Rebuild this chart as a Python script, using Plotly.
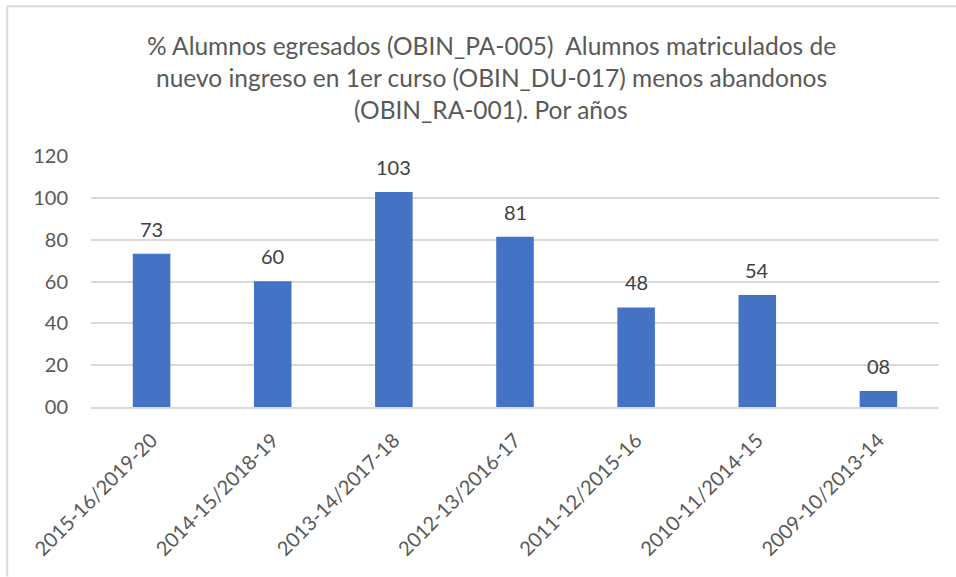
import plotly.graph_objects as go

categories = ["2015-16/2019-20", "2014-15/2018-19", "2013-14/2017-18", "2012-13/2016-17",
              "2011-12/2015-16", "2010-11/2014-15", "2009-10/2013-14"]
values = [73.3, 60.1, 102.8, 81.4, 47.6, 53.6, 7.6]
title_lines = ["% Alumnos egresados (OBIN_PA-005)  Alumnos matriculados de",
               "nuevo ingreso en 1er curso (OBIN_DU-017) menos abandonos",
               "(OBIN_RA-001). Por años"]
y_ticks = [0, 20, 40, 60, 80, 100, 120]

W, H = 956, 577
L, R, T, B = 90.7, 17.3, 156, 169.7
pw, ph = W - L - R, H - T - B

def px_x(x):
    return (x - L) / pw

def px_y(y):
    return (H - B - y) / ph

FONT = "Lato"
fig = go.Figure(go.Bar(x=categories, y=values, marker_color="#4472C4",
                       marker_line_width=0))

for c, v in zip(categories, values):
    fig.add_annotation(x=c, y=v, xref="x", yref="y", text=f"{round(v):02d}",
                       showarrow=False, yanchor="middle", yshift=25,
                       font=dict(family=FONT, size=20, color="#404040"))

for i, line in enumerate(title_lines):
    fig.add_annotation(x=px_x(491), y=px_y(45 + 32 * i), xref="paper", yref="paper",
                       text=line, showarrow=False, xanchor="center", yanchor="middle",
                       font=dict(family=FONT, size=24.5, color="#595959"))

frame_style = dict(color="#d9d9d9", width=2)
fig.add_shape(type="line", xref="paper", yref="paper",
              x0=px_x(7), x1=px_x(7), y0=px_y(6), y1=px_y(577), line=frame_style)
fig.add_shape(type="line", xref="paper", yref="paper",
              x0=px_x(7), x1=px_x(956), y0=px_y(6), y1=px_y(6), line=frame_style)

fig.update_layout(
    width=W, height=H,
    margin=dict(l=L, r=R, t=T, b=B, autoexpand=False),
    plot_bgcolor="white", paper_bgcolor="white",
    bargap=0.69, showlegend=False,
    font=dict(family=FONT, color="#595959"),
)
fig.update_yaxes(range=[0, 120], tickvals=y_ticks, ticktext=[f"{t:02d}" for t in y_ticks],
                 showgrid=True, gridcolor="#d9d9d9", gridwidth=1.5, zeroline=False,
                 showline=False, ticklabelstandoff=22,
                 tickfont=dict(family=FONT, size=20, color="#595959"))
fig.update_xaxes(tickangle=-45, showgrid=False, showline=True, linecolor="#d9d9d9",
                 linewidth=1.5, ticks="", ticklabelstandoff=12,
                 tickfont=dict(family=FONT, size=20, color="#595959"))

fig.write_html("out.html", config={"displayModeBar": False},
               post_script="document.body.style.margin='0';")
